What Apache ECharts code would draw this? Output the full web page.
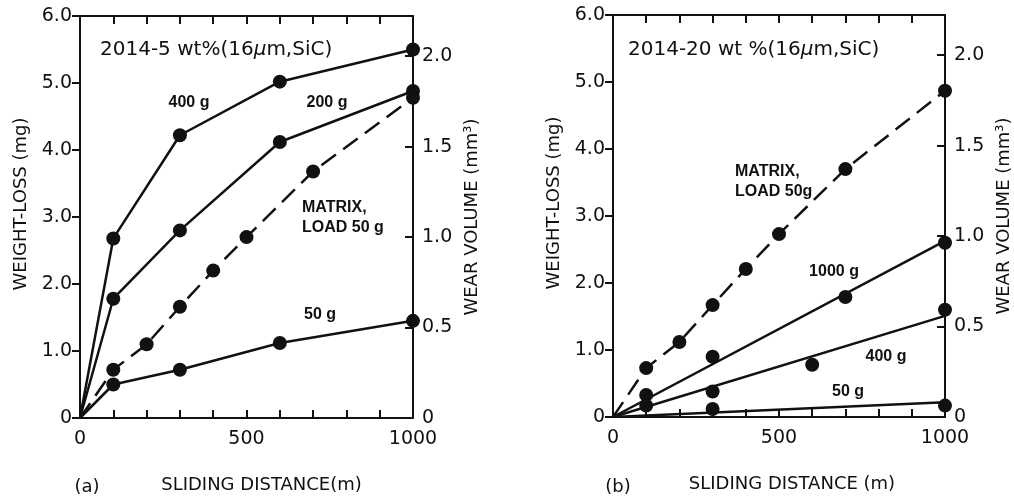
<!DOCTYPE html>
<html>
<head>
<meta charset="utf-8">
<script src="https://cdn.jsdelivr.net/npm/echarts@6/dist/echarts.min.js"></script>
<style>html,body{margin:0;background:#fff}#chart{width:1014px;height:500px}</style>
</head>
<body>
<div id="chart"></div>
<script>
// sliding distance (m) and weight-loss (mg)
// (a) 2014-5 wt% SiC
const distA = [100, 300, 600, 1000];
const a400 = [2.68, 4.22, 5.02, 5.5];
const a200 = [1.78, 2.8, 4.12, 4.88];
const a50 = [0.5, 0.72, 1.12, 1.45];
const distMatrix = [100, 200, 300, 400, 500, 700, 1000];
const aMatrix = [0.72, 1.1, 1.66, 2.2, 2.7, 3.68, 4.78];
// (b) 2014-20 wt% SiC
const bMatrix = [0.73, 1.12, 1.67, 2.21, 2.73, 3.7, 4.87];
const dist1000 = [100, 300, 700, 1000];
const b1000 = [0.33, 0.9, 1.79, 2.6];
const dist400 = [100, 300, 600, 1000];
const b400 = [0.17, 0.38, 0.78, 1.6];
const dist50 = [300, 1000];
const b50 = [0.12, 0.17];
// straight fitted lines in (b)
const fitDist = [0, 1000];
const fit1000 = [0, 2.63];
const fit400 = [0, 1.51];
const fit50 = [0, 0.22];

const density = 2.7; // mg/mm3 -> wear volume axis
const xTicks = [0, 500, 1000];

const ink = '#111';
const tickFont = {color: ink, fontFamily: 'DejaVu Sans', fontSize: 19};
const nameFont = {color: ink, fontFamily: 'DejaVu Sans', fontSize: 18};
const axisLine = {show: true, onZero: false, lineStyle: {color: ink, width: 2}};
const tickLine = {color: ink, width: 2};

function pairs(xs, ys) {
  return xs.map((x, i) => [x, ys[i]]);
}
// curve starts at the origin, which has no dot
function fromOrigin(xs, ys) {
  return [{value: [0, 0], symbol: 'none'}].concat(pairs(xs, ys));
}

function curve(gi, data, dashed) {
  return {
    type: 'line', xAxisIndex: gi * 2, yAxisIndex: gi * 2, data: data,
    symbol: 'circle', symbolSize: 14, showAllSymbol: true,
    itemStyle: {color: ink, opacity: 1},
    lineStyle: {color: ink, width: 2.5, type: dashed ? [18, 9] : 'solid'},
    z: 3
  };
}
function fitLine(gi, ys) {
  return {
    type: 'line', xAxisIndex: gi * 2, yAxisIndex: gi * 2, data: pairs(fitDist, ys),
    symbol: 'none', lineStyle: {color: ink, width: 2.5}, z: 2
  };
}
function dots(gi, data) {
  return {
    type: 'scatter', xAxisIndex: gi * 2, yAxisIndex: gi * 2, data: data,
    symbol: 'circle', symbolSize: 14, itemStyle: {color: ink, opacity: 1}, z: 4
  };
}

function xBottom(gi, name, pad) {
  return {
    type: 'value', gridIndex: gi, min: 0, max: 1000, interval: 100, position: 'bottom',
    axisLine: axisLine,
    axisTick: {show: true, inside: true, length: 8, lineStyle: tickLine},
    axisLabel: Object.assign({}, tickFont, {margin: 12, formatter: v => xTicks.includes(v) ? String(v) : ''}),
    splitLine: {show: false},
    name: name, nameLocation: 'middle', nameGap: 58,
    nameTextStyle: Object.assign({}, nameFont, {padding: [0, 0, 0, pad]})
  };
}
function xTop(gi) {
  return {
    type: 'value', gridIndex: gi, min: 0, max: 1000, interval: 100, position: 'top',
    axisLine: axisLine,
    axisTick: {show: true, inside: true, length: 8, lineStyle: tickLine},
    axisLabel: {show: false}, splitLine: {show: false}
  };
}
function yLeft(gi) {
  return {
    type: 'value', gridIndex: gi, min: 0, max: 6, interval: 1, position: 'left',
    axisLine: axisLine,
    axisTick: {show: true, inside: false, length: 8, lineStyle: tickLine},
    axisLabel: Object.assign({}, tickFont, {margin: 8, formatter: v => v === 0 ? '0' : v.toFixed(1)}),
    splitLine: {show: false},
    name: 'WEIGHT-LOSS (mg)', nameLocation: 'middle', nameGap: 50, nameRotate: 90,
    nameTextStyle: Object.assign({}, nameFont, {padding: [0, 0, 0, 26]})
  };
}
function yRight(gi) {
  return {
    type: 'value', gridIndex: gi, min: 0, max: 6 / density, interval: 0.5, position: 'right',
    axisLine: axisLine,
    axisTick: {show: true, inside: true, length: 8, lineStyle: tickLine},
    axisLabel: Object.assign({}, tickFont, {margin: 9, formatter: function (v) {
      if (Math.abs(v * 2 - Math.round(v * 2)) > 1e-6) return '';
      return v === 0 ? '0' : v.toFixed(1);
    }}),
    splitLine: {show: false},
    name: 'WEAR VOLUME (mm³)', nameLocation: 'middle', nameGap: 50, nameRotate: 90,
    nameTextStyle: nameFont
  };
}

function label(text, x, y, align) {
  return {
    type: 'text', x: x, y: y, z: 10,
    style: {text: text, fill: ink, font: 'bold 16px "Liberation Sans"', align: align || 'center', verticalAlign: 'middle'}
  };
}
function heading(text, x, y) {
  return {
    type: 'text', x: x, y: y, z: 10,
    style: {
      text: text, fill: ink, fontFamily: 'DejaVu Sans', fontSize: 20, align: 'left', verticalAlign: 'middle',
      rich: {i: {fontFamily: 'DejaVu Sans', fontSize: 20, fontStyle: 'italic', fill: ink}}
    }
  };
}
function panelTag(text, x, y) {
  return {
    type: 'text', x: x, y: y, z: 10,
    style: {text: text, fill: ink, fontFamily: 'DejaVu Sans', fontSize: 18, align: 'center', verticalAlign: 'middle'}
  };
}

const chart = echarts.init(document.getElementById('chart'));
chart.setOption({
  animation: false,
  backgroundColor: '#fff',
  grid: [
    {left: 80, top: 16, width: 333, height: 402},
    {left: 613, top: 15, width: 332, height: 402}
  ],
  xAxis: [
    xBottom(0, 'SLIDING DISTANCE(m)', 30), xTop(0),
    xBottom(1, 'SLIDING DISTANCE (m)', 26), xTop(1)
  ],
  yAxis: [yLeft(0), yRight(0), yLeft(1), yRight(1)],
  series: [
    curve(0, fromOrigin(distA, a400)),
    curve(0, fromOrigin(distA, a200)),
    curve(0, fromOrigin(distA, a50)),
    curve(0, fromOrigin(distMatrix, aMatrix), true),
    curve(1, fromOrigin(distMatrix, bMatrix), true),
    fitLine(1, fit1000),
    fitLine(1, fit400),
    fitLine(1, fit50),
    dots(1, pairs(dist1000, b1000)),
    dots(1, pairs(dist400, b400)),
    dots(1, pairs(dist50, b50))
  ],
  graphic: [
    heading('2014-5 wt%(16{i|μ}m,SiC)', 100, 50),
    label('400 g', 189, 103),
    label('200 g', 327, 103),
    label('MATRIX,', 302, 208, 'left'),
    label('LOAD 50 g', 302, 228, 'left'),
    label('50 g', 320, 315),
    panelTag('(a)', 87, 487),
    heading('2014-20 wt %(16{i|μ}m,SiC)', 628, 50),
    label('MATRIX,', 735, 172, 'left'),
    label('LOAD 50g', 735, 192, 'left'),
    label('1000 g', 834, 272),
    label('400 g', 886, 357),
    label('50 g', 848, 392),
    panelTag('(b)', 618, 487)
  ]
});
</script>
</body>
</html>
